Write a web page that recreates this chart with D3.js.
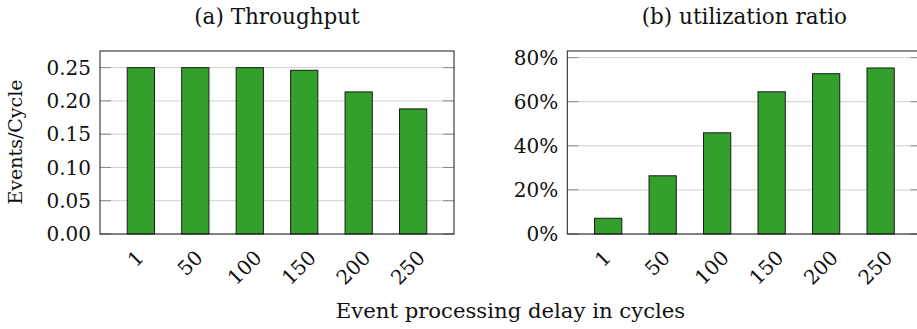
<!DOCTYPE html>
<html>
<head>
<meta charset="utf-8">
<script src="https://cdn.jsdelivr.net/npm/d3@7"></script>
<style>
  html, body { margin: 0; padding: 0; background: #fff; }
  svg text { font-family: "DejaVu Serif", "Liberation Serif", serif; fill: #111; }
</style>
</head>
<body>
<svg id="chart" width="917" height="329"></svg>
<script>
// Event processing delay (cycles) on the x axis of both panels
const categories = ["1", "50", "100", "150", "200", "250"];
// (a) throughput in events per cycle
const throughput = [0.25, 0.25, 0.25, 0.246, 0.2135, 0.188];
// (b) utilization ratio (fraction)
const utilization = [0.0712, 0.264, 0.459, 0.645, 0.727, 0.753];
// Tick values
const throughputTicks = [0, 0.05, 0.10, 0.15, 0.20, 0.25];
const utilizationTicks = [0, 0.2, 0.4, 0.6, 0.8];

const svg = d3.select("#chart");
const TICK_FONT = 20;
const TITLE_FONT = 21.5;
const LABEL_FONT = 21.2;
const GREEN = "#33a02c";

function panel(opts) {
  const { x0, x1, y0, y1, values, yMax, ticks, fmt, title } = opts;
  const g = svg.append("g");

  const x = d3.scalePoint().domain(categories).range([x0, x1]).padding(0.75);
  const y = d3.scaleLinear().domain([0, yMax]).range([y1, y0]);
  const barW = x.step() * 0.5;

  // horizontal grid lines
  g.append("g").selectAll("line").data(ticks).join("line")
    .attr("x1", x0).attr("x2", x1)
    .attr("y1", d => y(d)).attr("y2", d => y(d))
    .attr("stroke", "#cfcfcf").attr("stroke-width", 1);

  // inward tick marks on both sides
  const tickLen = 11;
  g.append("g").selectAll("line").data(ticks).join("line")
    .attr("x1", x0).attr("x2", x0 + tickLen)
    .attr("y1", d => y(d)).attr("y2", d => y(d))
    .attr("stroke", "#8a8a8a").attr("stroke-width", 1);
  g.append("g").selectAll("line").data(ticks).join("line")
    .attr("x1", x1 - tickLen).attr("x2", x1)
    .attr("y1", d => y(d)).attr("y2", d => y(d))
    .attr("stroke", "#8a8a8a").attr("stroke-width", 1);

  // bars
  g.append("g").selectAll("rect").data(values).join("rect")
    .attr("x", (d, i) => x(categories[i]) - barW / 2)
    .attr("width", barW)
    .attr("y", d => y(d))
    .attr("height", d => y(0) - y(d))
    .attr("fill", GREEN)
    .attr("stroke", "#1a1a1a").attr("stroke-width", 1);

  // frame
  g.append("rect")
    .attr("x", x0).attr("y", y0)
    .attr("width", x1 - x0).attr("height", y1 - y0)
    .attr("fill", "none").attr("stroke", "#1a1a1a").attr("stroke-width", 1);

  // y tick labels
  g.append("g").selectAll("text").data(ticks).join("text")
    .attr("x", x0 - 9)
    .attr("y", d => y(d))
    .attr("dy", "0.36em")
    .attr("text-anchor", "end")
    .attr("font-size", TICK_FONT)
    .text(fmt);

  // rotated x tick labels, placed by the top-centre of their rotated box
  g.append("g").selectAll("text").data(categories).join("text")
    .attr("text-anchor", "end")
    .attr("font-size", TICK_FONT)
    .text(d => d)
    .each(function (d) {
      const w = this.getComputedTextLength();
      const bx = x(d) - 5 + 0.354 * (w + 13);
      const by = y1 + 25;
      d3.select(this).attr("transform", `translate(${bx},${by}) rotate(-45)`);
    });

  // panel title
  g.append("text")
    .attr("x", (x0 + x1) / 2)
    .attr("y", 24)
    .attr("text-anchor", "middle")
    .attr("font-size", TITLE_FONT)
    .text(title);

  return { x, y };
}

panel({
  x0: 100, x1: 454, y0: 51, y1: 234,
  values: throughput, yMax: 0.275, ticks: throughputTicks,
  fmt: d3.format(".2f"), title: "(a) Throughput"
});

panel({
  x0: 567.3, x1: 921.5, y0: 51, y1: 234,
  values: utilization, yMax: 0.83, ticks: utilizationTicks,
  fmt: d3.format(".0%"), title: "(b) utilization ratio"
});

// y axis title for the left panel
svg.append("text")
  .attr("transform", "translate(22,142) rotate(-90)")
  .attr("text-anchor", "middle")
  .attr("font-size", 19)
  .text("Events/Cycle");

// shared x axis title
svg.append("text")
  .attr("x", 510.5)
  .attr("y", 318)
  .attr("text-anchor", "middle")
  .attr("font-size", LABEL_FONT)
  .text("Event processing delay in cycles");
</script>
</body>
</html>
